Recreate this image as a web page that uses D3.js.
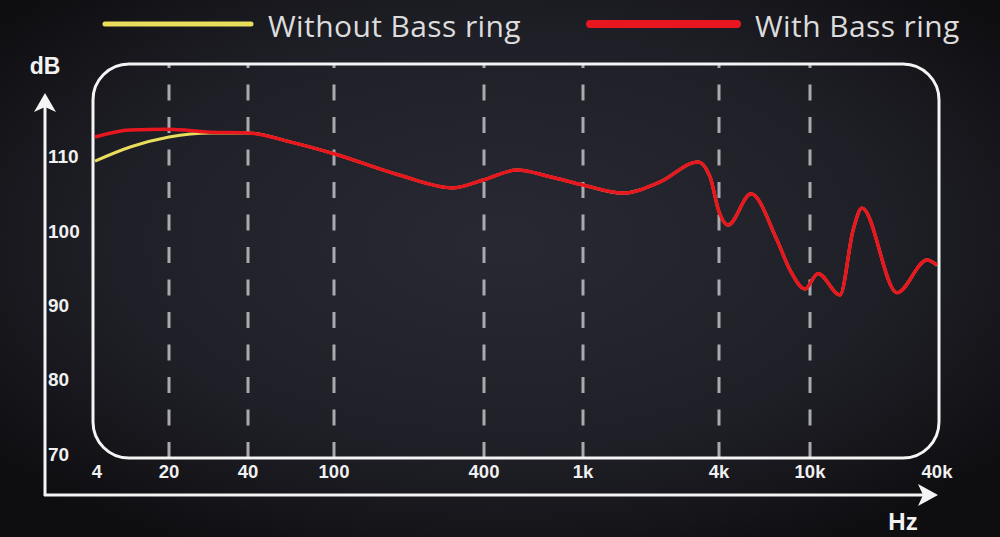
<!DOCTYPE html>
<html><head><meta charset="utf-8">
<script src="https://cdn.jsdelivr.net/npm/d3@7"></script>
<style>html,body{margin:0;padding:0;background:#16161a;}svg{display:block;}</style>
</head><body>
<svg id="chart" width="1000" height="537"></svg>
<script>
// ---- data ----
const freqs = [4, 8.6, 20, 28.7, 40, 62.6, 100, 184, 300, 400, 543, 737, 1000, 1503, 2192, 3231, 3648, 4000, 4380, 5520, 7170, 8180, 9510, 10910, 13870, 16000, 17630, 25850, 35860, 40000];
const withRing = [112.65, 113.6, 113.7, 113.3, 113.2, 112.0, 110.4, 107.5, 105.8, 106.9, 108.2, 107.3, 106.2, 105.1, 106.6, 109.3, 107.3, 102.6, 100.8, 105.0, 98.8, 94.75, 92.2, 94.3, 91.4, 100.1, 103.1, 91.7, 96.1, 95.4];
const withoutRing = [109.4, 111.3, 112.65, 113.2, 113.2, 112.0, 110.4, 107.5, 105.8, 106.9, 108.2, 107.3, 106.2, 105.1, 106.6, 109.3, 107.3, 102.6, 100.8, 105.0, 98.8, 94.75, 92.2, 94.3, 91.4, 100.1, 103.1, 91.7, 96.1, 95.4];
const xTickValues = [4, 20, 40, 100, 400, 1000, 4000, 10000, 40000];
const xTickLabels = ["4", "20", "40", "100", "400", "1k", "4k", "10k", "40k"];
const gridValues = [20, 40, 100, 400, 1000, 4000, 10000];
const yTickValues = [70, 80, 90, 100, 110];
const seriesNames = ["Without Bass ring", "With Bass ring"];
const seriesColors = ["#e9dd5c", "#e8171f"];

// ---- layout ----
const xPositions = [95, 169, 248, 334, 484, 583, 719, 810, 937];
const box = {x0: 93, y0: 64, x1: 939, y1: 458, r: 36};

const svg = d3.select("#chart");
const defs = svg.append("defs");
const bg = defs.append("radialGradient").attr("id", "bg").attr("cx", "50%").attr("cy", "45%").attr("r", "65%");
bg.append("stop").attr("offset", "0%").attr("stop-color", "#292934");
bg.append("stop").attr("offset", "60%").attr("stop-color", "#1f1f27");
bg.append("stop").attr("offset", "100%").attr("stop-color", "#0e0e11");
svg.append("rect").attr("width", 1000).attr("height", 537).attr("fill", "url(#bg)");

const x = d3.scaleLog().domain(xTickValues).range(xPositions);
const y = d3.scaleLinear().domain([70, 110]).range([454, 156.7]);

// dashed gridlines
svg.append("g").selectAll("line").data(gridValues).join("line")
  .attr("x1", d => x(d)).attr("x2", d => x(d))
  .attr("y1", box.y1).attr("y2", box.y0)
  .attr("stroke", "#a9a9b0").attr("stroke-width", 3)
  .attr("stroke-dasharray", "16 16.5");

// rounded box
svg.append("rect").attr("x", box.x0).attr("y", box.y0)
  .attr("width", box.x1 - box.x0).attr("height", box.y1 - box.y0)
  .attr("rx", box.r).attr("ry", box.r)
  .attr("fill", "none").attr("stroke", "#f4f4f4").attr("stroke-width", 3);

// curves
const line = d3.line().x(d => x(d[0])).y(d => y(d[1])).curve(d3.curveMonotoneX);
svg.append("path").datum(freqs.map((f, i) => [f, withoutRing[i]]))
  .attr("d", line).attr("fill", "none").attr("stroke", seriesColors[0]).attr("stroke-width", 3);
svg.append("path").datum(freqs.map((f, i) => [f, withRing[i]]))
  .attr("d", line).attr("fill", "none").attr("stroke", seriesColors[1]).attr("stroke-width", 3.5)
  .attr("stroke-linejoin", "round");

// axes arrows
const axisCol = "#f4f4f4";
svg.append("line").attr("x1", 45).attr("x2", 45).attr("y1", 496).attr("y2", 105)
  .attr("stroke", axisCol).attr("stroke-width", 3);
svg.append("path").attr("d", "M45,93 L56,112 L45,107 L34,112 Z").attr("fill", axisCol);
svg.append("line").attr("x1", 44).attr("x2", 926).attr("y1", 495).attr("y2", 495)
  .attr("stroke", axisCol).attr("stroke-width", 3);
svg.append("path").attr("d", "M938,495 L918,484 L923,495 L918,506 Z").attr("fill", axisCol);

const labelFont = "'Liberation Sans', Arial, sans-serif";
svg.append("text").attr("x", 45).attr("y", 74).attr("text-anchor", "middle")
  .attr("font-family", labelFont).attr("font-weight", "bold").attr("font-size", 23)
  .attr("fill", "#f2f2f2").text("dB");
svg.append("text").attr("x", 903).attr("y", 530).attr("text-anchor", "middle")
  .attr("font-family", labelFont).attr("font-weight", "bold").attr("font-size", 24)
  .attr("fill", "#f2f2f2").text("Hz");

// y tick labels
svg.append("g").selectAll("text").data(yTickValues).join("text")
  .attr("x", 48).attr("y", d => y(d) + 6.5)
  .attr("font-family", labelFont).attr("font-weight", "bold").attr("font-size", 19)
  .attr("fill", "#f0f0f0").text(d => d);

// x tick labels
svg.append("g").selectAll("text").data(xTickValues).join("text")
  .attr("x", (d, i) => x(d) + (i === 0 ? 2 : 0)).attr("y", 478).attr("text-anchor", "middle")
  .attr("font-family", labelFont).attr("font-weight", "bold").attr("font-size", 18.5)
  .attr("fill", "#f0f0f0").text((d, i) => xTickLabels[i]);

// legend
const legendFont = "'Open Sans', 'Noto Sans', sans-serif";
const legend = [
  {lx1: 105, lx2: 251, tx: 268, w: 5},
  {lx1: 590, lx2: 737, tx: 755, w: 8}
];
legend.forEach((L, i) => {
  svg.append("line").attr("x1", L.lx1).attr("x2", L.lx2).attr("y1", 24).attr("y2", 24)
    .attr("stroke", seriesColors[i]).attr("stroke-width", L.w).attr("stroke-linecap", "round");
  svg.append("text").attr("x", L.tx).attr("y", 37)
    .attr("font-family", legendFont).attr("font-size", 30).attr("letter-spacing", 0.4)
    .attr("fill", "#dcdcdc")
    .text(seriesNames[i]);
});
</script>
</body></html>
